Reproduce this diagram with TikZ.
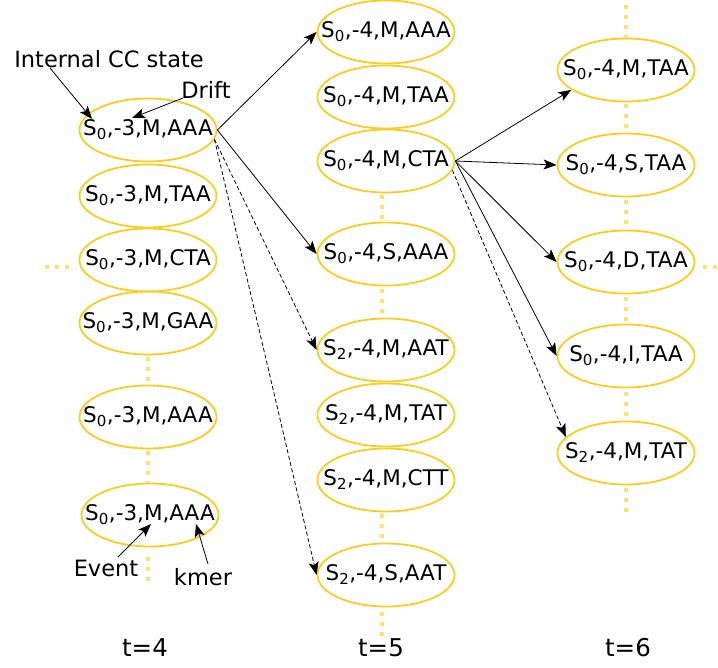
\documentclass[tikz,border=0pt]{standalone}
\usepackage{fontspec}
\setmainfont{DejaVu Sans}
\usetikzlibrary{shapes.geometric,arrows.meta,calc}
\definecolor{gold}{RGB}{250,205,30}
\definecolor{lgold}{RGB}{255,225,110}
\newcommand\subsc[1]{\textsubscript{#1}}
\newcommand\zw[1]{\makebox[0pt]{#1}}
\tikzset{
  st/.style={ellipse,draw=gold,line width=1.8pt,minimum width=137pt,minimum height=63pt,inner sep=0pt,font=\fontsize{21.5}{24}\selectfont},
  lbl/.style={font=\fontsize{22.5}{26}\selectfont,inner sep=0pt},
  tlbl/.style={font=\fontsize{24.5}{28}\selectfont,inner sep=0pt},
  arr/.style={-{Stealth[length=13pt,width=10pt,inset=3pt]},line width=0.8pt},
  darr/.style={arr,dash pattern=on 4pt off 2.5pt},
  dots/.style={draw=lgold,line width=4pt,dash pattern=on 4pt off 6pt}
}
\begin{document}
\begin{tikzpicture}[x=1pt,y=-1pt]
\useasboundingbox (0,0) rectangle (718,668);
% column t=4
\node[st] (a1) at (148,130) {\zw{S\subsc{0},-3,M,AAA}};
\node[st] (a2) at (148,196) {\zw{S\subsc{0},-3,M,TAA}};
\node[st] (a3) at (148,260) {\zw{S\subsc{0},-3,M,CTA}};
\node[st] (a4) at (148,323) {\zw{S\subsc{0},-3,M,GAA}};
\node[st] (a5) at (148,417) {\zw{S\subsc{0},-3,M,AAA}};
\node[st] (a6) at (150,515) {\zw{S\subsc{0},-3,M,AAA}};
% column t=5
\node[st] (b1) at (386,32) {\zw{S\subsc{0},-4,M,AAA}};
\node[st] (b2) at (386,97) {\zw{S\subsc{0},-4,M,TAA}};
\node[st] (b3) at (386,161) {\zw{S\subsc{0},-4,M,CTA}};
\node[st] (b4) at (386,254) {\zw{S\subsc{0},-4,S,AAA}};
\node[st] (b5) at (386,350) {\zw{S\subsc{2},-4,M,AAT}};
\node[st] (b6) at (386,415) {\zw{S\subsc{2},-4,M,TAT}};
\node[st] (b7) at (386,480) {\zw{S\subsc{2},-4,M,CTT}};
\node[st] (b8) at (386,575) {\zw{S\subsc{2},-4,S,AAT}};
% column t=6
\node[st] (c1) at (626,70) {\zw{S\subsc{0},-4,M,TAA}};
\node[st] (c2) at (626,165) {\zw{S\subsc{0},-4,S,TAA}};
\node[st] (c3) at (626,262) {\zw{S\subsc{0},-4,D,TAA}};
\node[st] (c4) at (626,356) {\zw{S\subsc{0},-4,I,TAA}};
\node[st] (c5) at (626,453) {\zw{S\subsc{2},-4,M,TAT}};
% time labels
\node[tlbl] (t4) at (145,648) {t=4};
\node[tlbl] (t5) at (381,648) {t=5};
\node[tlbl] (t6) at (628,648) {t=6};
% annotations
\node[lbl] (ics) at (109,59) {Internal CC state};
\node[lbl] (dr) at (206,90) {Drift};
\node[lbl] (ev) at (106,568) {Event};
\node[lbl] (km) at (203,577) {kmer};
\coordinate (icsS) at (50,68);
\coordinate (drS) at (183,98);
\coordinate (evS) at (118,557);
\coordinate (kmS) at (208,564);
\coordinate (icsT) at (92,119);
\coordinate (drT) at (132,118);
\coordinate (evT) at (151,524);
\coordinate (kmT) at (196,524);
\draw[arr] (icsS) -- (icsT);
\draw[arr] (drS) -- (drT);
\draw[arr] (evS) -- (evT);
\draw[arr] (kmS) -- (kmT);
% dotted continuation
\coordinate (a6d) at (148,582);
\coordinate (a3l1) at (45,267);
\coordinate (a3l2) at (72,267);
\draw[dots] (148,357) -- (148,386);
\draw[dots] (148,451) -- (148,482);
\draw[dots] (148,557) -- (a6d);
\draw[dots] (a3l1) -- (a3l2);
\draw[dots] (382,195) -- (382,222);
\draw[dots] (382,289) -- (382,318);
\draw[dots] (382,514) -- (382,543);
\draw[dots] (382,612) -- (382,638);
\draw[dots] (626,5) -- (626,38);
\draw[dots] (626,104) -- (626,133);
\draw[dots] (626,200) -- (626,230);
\draw[dots] (626,297) -- (626,325);
\draw[dots] (626,392) -- (626,422);
\draw[dots] (626,488) -- (626,515);
\draw[dots] (703,267) -- (718,267);
% transitions t=4 -> t=5
\draw[arr] (a1.east) -- (b1.west);
\draw[arr] (a1.east) -- (b4.west);
\draw[darr] (a1.-8) -- (b5.west);
\draw[darr] (a1.-8) -- (b8.west);
% transitions t=5 -> t=6
\draw[arr] (b3.east) -- (c1.200);
\draw[arr] (b3.east) -- (c2.west);
\draw[arr] (b3.east) -- (c3.west);
\draw[arr] (b3.east) -- (c4.west);
\draw[darr] (b3.-8) -- (c5.165);
\end{tikzpicture}
\end{document}
